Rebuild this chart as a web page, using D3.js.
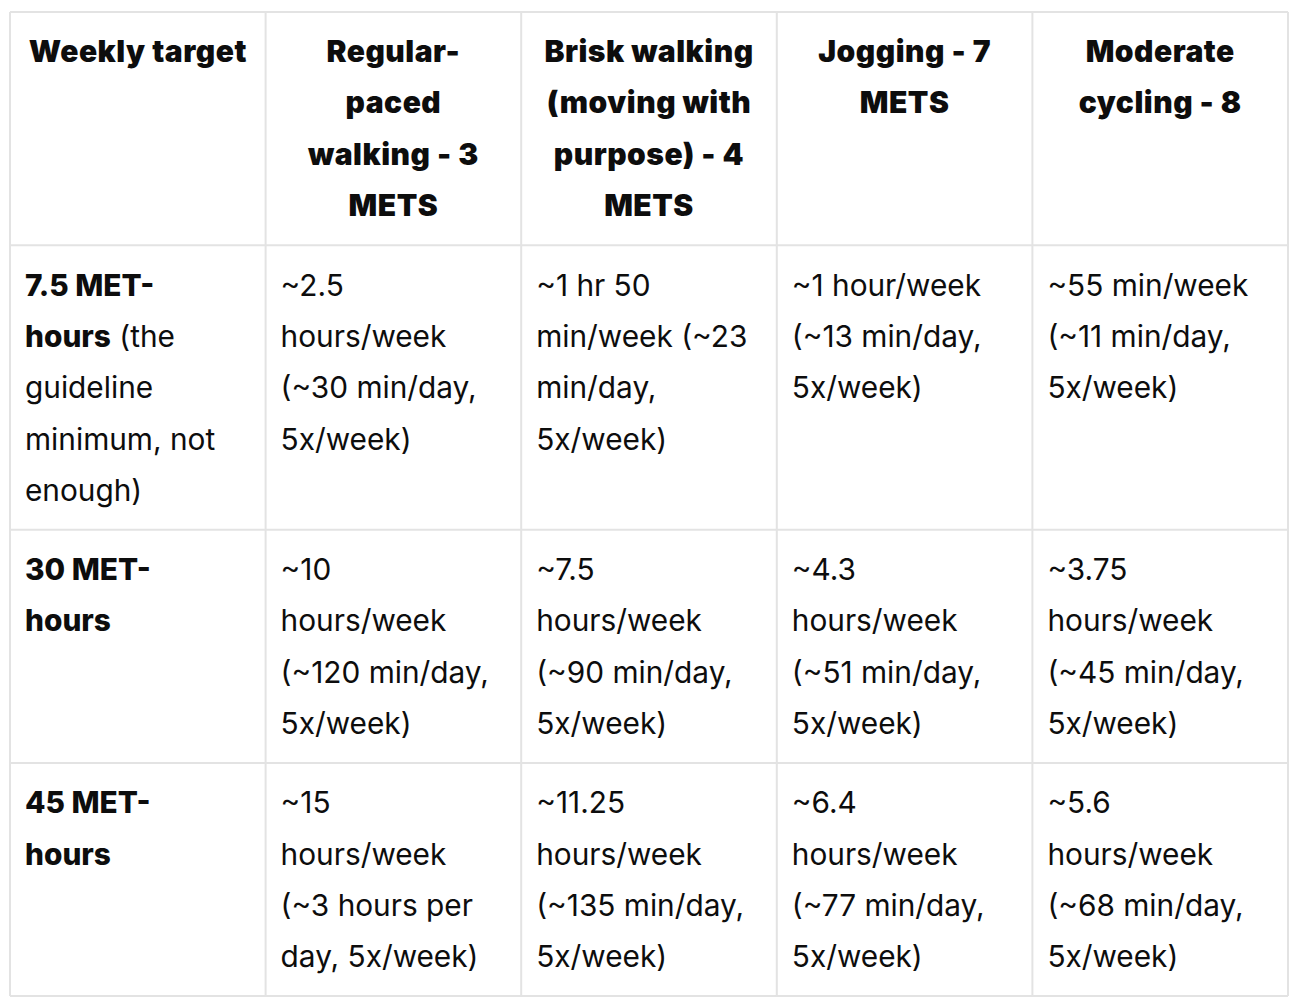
<!DOCTYPE html>
<html><head><meta charset="utf-8">
<script src="https://cdn.jsdelivr.net/npm/d3@7"></script>
<style>
html,body{margin:0;padding:0;background:#fff;}
svg{display:block;}
</style></head>
<body>
<svg id="chart" width="1298" height="1008"></svg>
<script>
// Column headers (line breaks as in the original)
const headers = [
  "Weekly target",
  "Regular-\npaced\nwalking - 3\nMETS",
  "Brisk walking\n(moving with\npurpose) - 4\nMETS",
  "Jogging - 7\nMETS",
  "Moderate\ncycling - 8"
];
// Row labels; **...** marks bold runs
const rowLabels = [
  "**7.5 MET-**\n**hours** (the\nguideline\nminimum, not\nenough)",
  "**30 MET-**\n**hours**",
  "**45 MET-**\n**hours**"
];
const walkingRegular = [
  "~2.5\nhours/week\n(~30 min/day,\n5x/week)",
  "~10\nhours/week\n(~120 min/day,\n5x/week)",
  "~15\nhours/week\n(~3 hours per\nday, 5x/week)"
];
const walkingBrisk = [
  "~1 hr 50\nmin/week (~23\nmin/day,\n5x/week)",
  "~7.5\nhours/week\n(~90 min/day,\n5x/week)",
  "~11.25\nhours/week\n(~135 min/day,\n5x/week)"
];
const jogging = [
  "~1 hour/week\n(~13 min/day,\n5x/week)",
  "~4.3\nhours/week\n(~51 min/day,\n5x/week)",
  "~6.4\nhours/week\n(~77 min/day,\n5x/week)"
];
const cycling = [
  "~55 min/week\n(~11 min/day,\n5x/week)",
  "~3.75\nhours/week\n(~45 min/day,\n5x/week)",
  "~5.6\nhours/week\n(~68 min/day,\n5x/week)"
];

const columns = [rowLabels, walkingRegular, walkingBrisk, jogging, cycling];
const nRows = rowLabels.length;

const svg = d3.select("#chart");
const gLeft = 10, gRight = 1288, gTop = 12;
const lineH = 51.3;
const padTop = 14, padBottom = 14, padX = 15;
const fontSize = 29.8;
const headSize = 30;
const font = "Inter, 'Noto Sans', sans-serif";

const x = d3.scaleBand().domain(d3.range(headers.length)).range([gLeft, gRight]);

const linesOf = s => s.split("\n");
const headerLines = d3.max(headers, h => linesOf(h).length);
const rowLines = d3.range(nRows).map(r => d3.max(columns, c => linesOf(c[r]).length));
const heights = [headerLines, ...rowLines].map(n => n * lineH + padTop + padBottom);
const ys = [gTop];
heights.forEach(h => ys.push(ys[ys.length - 1] + h));

// grid lines
const grid = svg.append("g").attr("stroke", "#e3e3e3").attr("stroke-width", 2);
ys.forEach(y => grid.append("line").attr("x1", gLeft).attr("x2", gRight).attr("y1", y).attr("y2", y));
d3.range(headers.length + 1).forEach(i => {
  const xv = i < headers.length ? x(i) : gRight;
  grid.append("line").attr("x1", xv).attr("x2", xv).attr("y1", ys[0]).attr("y2", ys[ys.length - 1]);
});

// header text
headers.forEach((h, i) => {
  const t = svg.append("text")
    .attr("font-family", font).attr("font-size", headSize).attr("font-weight", 900)
    .attr("letter-spacing", 0.5)
    .attr("fill", "#0d0d0d")
    .attr("text-anchor", "middle");
  linesOf(h).forEach((ln, k) => {
    t.append("tspan")
      .attr("x", x(i) + x.bandwidth() / 2)
      .attr("y", ys[0] + padTop + lineH * k + lineH * 0.7)
      .text(ln);
  });
});

// body text
function addRich(t, str) {
  const parts = str.split(/(\*\*[^*]+\*\*)/).filter(p => p.length);
  parts.forEach(p => {
    const bold = p.startsWith("**");
    t.append("tspan")
      .attr("font-weight", bold ? 800 : 400)
      .text(bold ? p.slice(2, -2) : p);
  });
}
columns.forEach((col, ci) => {
  col.forEach((cell, ri) => {
    linesOf(cell).forEach((ln, k) => {
      const t = svg.append("text")
        .attr("font-family", font).attr("font-size", fontSize)
        .attr("fill", "#0d0d0d")
        .attr("x", x(ci) + padX)
        .attr("y", ys[ri + 1] + padTop + lineH * k + lineH * 0.71)
        .style("white-space", "pre");
      addRich(t, ln);
    });
  });
});
</script>
</body></html>
